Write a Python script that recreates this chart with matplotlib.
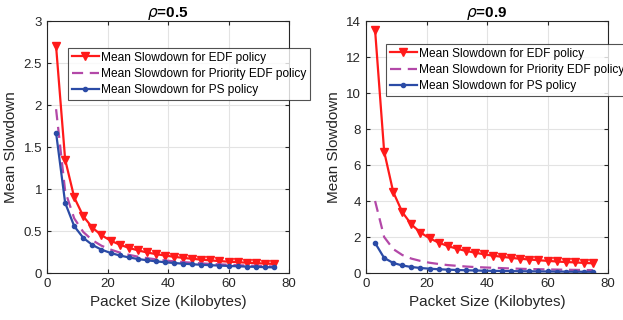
import matplotlib.pyplot as plt
import numpy as np

plt.rcParams['font.family'] = ['Liberation Sans', 'DejaVu Sans']

# packet sizes (kilobytes)
packet_size = [3, 6, 9, 12, 15, 18, 21, 24, 27, 30, 33, 36, 39, 42, 45, 48,
               51, 54, 57, 60, 63, 66, 69, 72, 75]

# rho = 0.5
edf_05 = [2.70, 1.35, 0.90, 0.675, 0.54, 0.45, 0.386, 0.338, 0.30, 0.27, 0.245,
          0.225, 0.208, 0.193, 0.18, 0.169, 0.159, 0.15, 0.142, 0.135, 0.129,
          0.123, 0.117, 0.113, 0.108]
pedf_05 = [1.95, 0.975, 0.65, 0.488, 0.39, 0.325, 0.279, 0.244, 0.217, 0.195,
           0.177, 0.163, 0.15, 0.139, 0.13, 0.122, 0.115, 0.108, 0.103, 0.098,
           0.093, 0.089, 0.085, 0.081, 0.078]
ps_05 = [1.67, 0.835, 0.557, 0.418, 0.334, 0.278, 0.239, 0.209, 0.186, 0.167,
         0.152, 0.139, 0.128, 0.119, 0.111, 0.104, 0.098, 0.093, 0.088, 0.084,
         0.08, 0.076, 0.073, 0.07, 0.067]

# rho = 0.9
edf_09 = [13.5, 6.75, 4.5, 3.38, 2.7, 2.25, 1.93, 1.69, 1.5, 1.35, 1.23, 1.13,
          1.04, 0.96, 0.9, 0.84, 0.79, 0.75, 0.71, 0.675, 0.64, 0.61, 0.59,
          0.56, 0.54]
pedf_09 = [4.0, 2.0, 1.33, 1.0, 0.8, 0.67, 0.57, 0.5, 0.44, 0.4, 0.36, 0.33,
           0.31, 0.29, 0.27, 0.25, 0.235, 0.22, 0.21, 0.2, 0.19, 0.18, 0.174,
           0.167, 0.16]
ps_09 = ps_05

red = '#ff1a1a'
mag = '#b348a8'
blue = '#2b4ba6'
txt = '#262626'

fig = plt.figure(figsize=(6.23, 3.2), dpi=100)
ax1 = fig.add_axes([47/623, 1-273/320, 242/623, 252/320])
ax2 = fig.add_axes([366/623, 1-273/320, 242/623, 252/320])

panels = [(ax1, edf_05, pedf_05, ps_05, r'$\rho$=0.5', 3, np.arange(0, 3.01, 0.5)),
          (ax2, edf_09, pedf_09, ps_09, r'$\rho$=0.9', 14, np.arange(0, 14.1, 2))]

for ax, edf, pedf, ps, title, ymax, yt in panels:
    ax.plot(packet_size, edf, '-v', color=red, lw=1.6, ms=5.5, label='Mean Slowdown for EDF policy')
    ax.plot(packet_size, pedf, '--', color=mag, lw=1.6, dashes=(5, 3), label='Mean Slowdown for Priority EDF policy')
    ax.plot(packet_size, ps, '-o', color=blue, lw=1.6, ms=3, label='Mean Slowdown for PS policy')
    ax.set_xlim(0, 80)
    ax.set_ylim(0, ymax)
    ax.set_xticks([0, 20, 40, 60, 80])
    ax.set_yticks(yt)
    ax.set_yticklabels([f'{v:g}' for v in yt])
    ax.grid(True, color='#e3e3e3', lw=0.8)
    ax.set_axisbelow(True)
    ax.tick_params(direction='in', top=True, right=True, labelsize=9.5, colors=txt, length=3)
    for s in ax.spines.values():
        s.set_color(txt)
        s.set_linewidth(0.8)
    ax.set_xlabel('Packet Size (Kilobytes)', fontsize=11, color=txt)
    ax.set_ylabel('Mean Slowdown', fontsize=11, color=txt)
    ax.set_title(title, fontsize=11, fontweight='bold', pad=3)

leg_kw = dict(fontsize=8.6, frameon=True, fancybox=False, edgecolor=txt,
              handlelength=2.3, handletextpad=0.2, borderpad=0.3, labelspacing=0.35,
              borderaxespad=0)
l1 = ax1.legend(loc='upper left', bbox_to_anchor=(21/242, 1-27/252), **leg_kw)
l2 = ax2.legend(loc='upper left', bbox_to_anchor=(20/242, 1-23/252), **leg_kw)
for l in (l1, l2):
    l.get_frame().set_linewidth(0.8)

fig.savefig('out.png', dpi=100)
